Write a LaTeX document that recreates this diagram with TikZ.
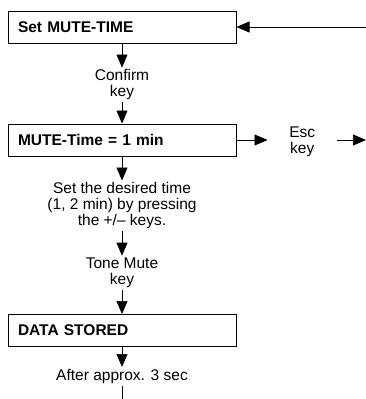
\documentclass[tikz,border=0pt]{standalone}
\usepackage{fontspec}
\setmainfont{Liberation Sans}
\usetikzlibrary{arrows.meta,positioning}
\tikzset{
    stepbox/.style={
        draw,
        line width=1pt,
        align=left,
        text width=208pt,
        inner xsep=10pt,
        inner ysep=0pt,
        minimum height=32pt,
        font=\fontsize{15.5}{16}\selectfont\bfseries
    },
    keytext/.style={
        align=center,
        inner xsep=0pt,
        inner ysep=2pt,
        font=\fontsize{15.5}{16}\selectfont
    },
    arrow/.style={
        -{Triangle[length=13pt,width=11pt]},
        line width=0.7pt
    },
    plainline/.style={
        line width=0.7pt
    }
}

\begin{document}
\begin{tikzpicture}[node distance=24pt]
    \useasboundingbox (0pt,0pt) rectangle (366pt,-399pt);

    \node[stepbox] (settime) at (122pt,-27pt) {Set MUTE-TIME};
    \node[keytext, below=24pt of settime] (confirm)
        {Confirm\\
        key};
    \node[stepbox] (mutetime) at (122pt,-140pt) {MUTE-Time = 1 min};
    \node[keytext, below=24pt of mutetime] (desired)
        {Set the desired time\\
        (1, 2 min) by pressing\\
        the +/-- keys.};
    \node[stepbox] (stored) at (122pt,-330.5pt) {DATA STORED};
    \node[keytext, above=24pt of stored] (tonemute)
        {Tone Mute\\
        key};
    \node[keytext, below=20pt of stored] (after)
        {After approx. 3 sec};
    \coordinate[below=14pt of after] (bottomend);

    \node[
        keytext,
        minimum width=69pt,
        right=31pt of mutetime,
        yshift=-2pt
    ] (esc)
        {Esc\\
        key};
    \coordinate (escout) at (366pt,-140pt);
    \coordinate (topin) at (366pt,-27pt);

    \draw[arrow] (settime) -- (confirm);
    \draw[arrow] (confirm) -- (mutetime);
    \draw[arrow] (mutetime) -- (desired);
    \draw[arrow] (desired) -- (tonemute);
    \draw[arrow] (tonemute) -- (stored);
    \draw[arrow] (stored) -- (after);
    \draw[plainline] (after) -- (bottomend);
    \draw[arrow] (mutetime.east) -- (mutetime.east -| esc.west);
    \draw[arrow] (esc.east |- escout) -- (escout);
    \draw[arrow] (topin) -- (settime.east);
\end{tikzpicture}
\end{document}
